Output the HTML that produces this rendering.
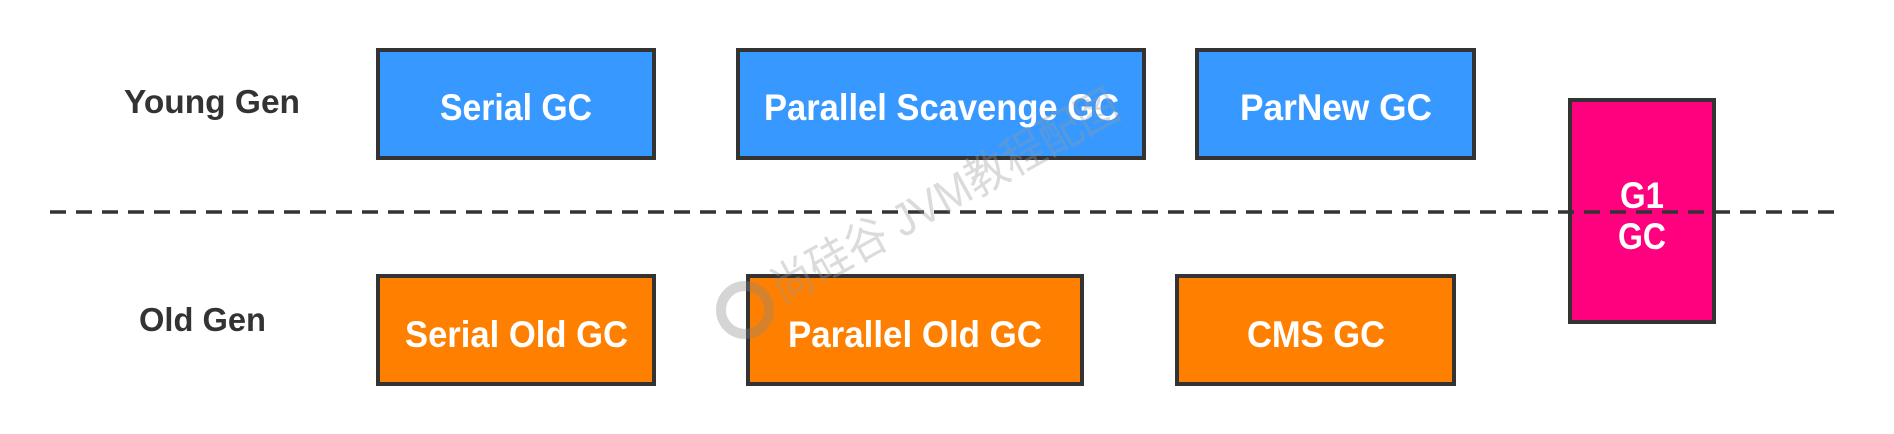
<!DOCTYPE html>
<html><head><meta charset="utf-8"><style>html,body{margin:0;padding:0;background:#fff;}svg{display:block}</style></head>
<body>
<svg width="1894" height="434" viewBox="0 0 1894 434" xmlns="http://www.w3.org/2000/svg" font-family="'Liberation Sans', 'Noto Sans CJK SC', sans-serif" font-weight="bold">
<g stroke="#333" stroke-width="4">
<rect x="378" y="50" width="276" height="108" fill="#3799FF"/>
<rect x="738" y="50" width="406" height="108" fill="#3799FF"/>
<rect x="1197" y="50" width="277" height="108" fill="#3799FF"/>
<rect x="378" y="276" width="276" height="108" fill="#FF8000"/>
<rect x="748" y="276" width="334" height="108" fill="#FF8000"/>
<rect x="1177" y="276" width="277" height="108" fill="#FF8000"/>
<rect x="1570" y="100" width="144" height="222" fill="#FF007F"/>
</g>
<line x1="50" y1="212" x2="1835" y2="212" stroke="#333" stroke-width="3.5" stroke-dasharray="16 10"/>
<g fill="#333" font-size="33">
<text x="124" y="113" textLength="176" lengthAdjust="spacingAndGlyphs">Young Gen</text>
<text x="139" y="331" textLength="127" lengthAdjust="spacingAndGlyphs">Old Gen</text>
</g>
<g fill="#fff" font-size="37">
<text x="440" y="120" textLength="152" lengthAdjust="spacingAndGlyphs">Serial GC</text>
<text x="764" y="120" textLength="355" lengthAdjust="spacingAndGlyphs">Parallel Scavenge GC</text>
<text x="1240" y="120" textLength="192" lengthAdjust="spacingAndGlyphs">ParNew GC</text>
<text x="405" y="347" textLength="223" lengthAdjust="spacingAndGlyphs">Serial Old GC</text>
<text x="788" y="347" textLength="254" lengthAdjust="spacingAndGlyphs">Parallel Old GC</text>
<text x="1247" y="347" textLength="138" lengthAdjust="spacingAndGlyphs">CMS GC</text>
<text x="1642" y="208" text-anchor="middle" textLength="44" lengthAdjust="spacingAndGlyphs">G1</text>
<text x="1642" y="249" text-anchor="middle" textLength="48" lengthAdjust="spacingAndGlyphs">GC</text>
</g>
<g opacity="0.35">
<circle cx="745" cy="310" r="24" fill="none" stroke="#888" stroke-width="10"/>
<text x="782" y="305" font-size="46" font-weight="normal" fill="#999" transform="rotate(-29 782 305)" textLength="390" lengthAdjust="spacingAndGlyphs">尚硅谷 JVM教程配图</text>
</g>
</svg>
</body></html>
